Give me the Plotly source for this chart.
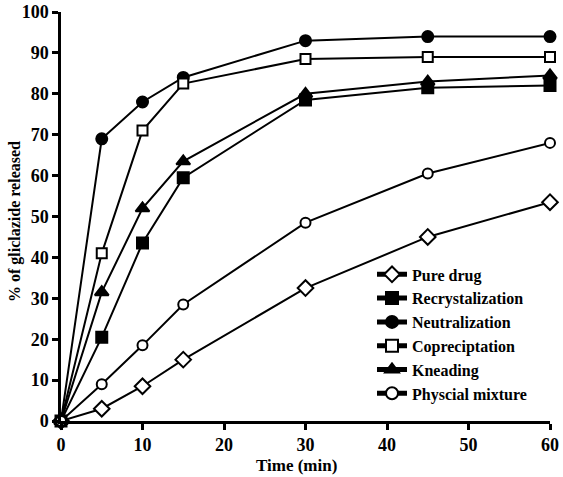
import plotly.graph_objects as go

time_min = [0, 5, 10, 15, 30, 45, 60]
pure_drug = [0, 3, 8.5, 15, 32.5, 45, 53.5]
recrystalization = [0, 20.5, 43.5, 59.5, 78.5, 81.5, 82]
neutralization = [0, 69, 78, 84, 93, 94, 94]
copreciptation = [0, 41, 71, 82.5, 88.5, 89, 89]
kneading = [0, 31.5, 52, 63.5, 80, 83, 84.5]
physical_mixture = [0, 9, 18.5, 28.5, 48.5, 60.5, 68]

series = [
    ("Pure drug", pure_drug, "diamond", "white", 12),
    ("Recrystalization", recrystalization, "square", "black", 11),
    ("Neutralization", neutralization, "circle", "black", 11),
    ("Copreciptation", copreciptation, "square", "white", 10),
    ("Kneading", kneading, "triangle-up", "black", 12),
    ("Physcial mixture", physical_mixture, "circle", "white", 10),
]

fig = go.Figure()
for i, (name, vals, sym, fill, sz) in enumerate(series):
    fig.add_trace(go.Scatter(
        x=time_min, y=vals, name=name, mode="lines+markers",
        legendgroup=f"g{i}",
        line=dict(color="black", width=2),
        marker=dict(symbol=sym, color=fill, size=sz,
                    line=dict(color="black", width=2)),
        cliponaxis=False,
    ))

font = dict(family="Liberation Serif", size=18, color="black", weight="bold")
legfont = dict(family="Liberation Serif", size=16, color="black", weight="bold")
titlefont = dict(family="Liberation Serif", size=17, color="black", weight="bold")

fig.update_layout(
    width=563, height=477,
    margin=dict(l=61, r=13, t=12, b=56, autoexpand=False),
    paper_bgcolor="white", plot_bgcolor="white",
    font=font,
    showlegend=True,
    legend=dict(x=0.636, y=0.40, xanchor="left", yanchor="top",
                bgcolor="rgba(0,0,0,0)", font=legfont,
                tracegroupgap=0, itemwidth=30, itemsizing="constant"),
    annotations=[
        dict(text="Time (min)", xref="paper", yref="paper",
             x=(296 - 61) / 489, y=-(466 - 421) / 409,
             xanchor="center", yanchor="middle", showarrow=False,
             font=titlefont),
        dict(text="% of gliclazide released", xref="paper", yref="paper",
             x=-(61 - 15) / 489, y=(421 - 222) / 409, textangle=-90,
             xanchor="center", yanchor="middle", showarrow=False,
             font=dict(family="Liberation Serif", size=16, color="black", weight="bold")),
    ],
)
fig.update_xaxes(
    range=[0, 60], tickvals=[0, 10, 20, 30, 40, 50, 60],
    showline=True, linecolor="black", linewidth=2.5,
    ticks="outside", ticklen=6, tickwidth=2.5, tickcolor="black",
    showgrid=False, zeroline=False, automargin=False,
    tickfont=font,
)
fig.update_yaxes(
    range=[0, 100], tickvals=list(range(0, 101, 10)),
    showline=True, linecolor="black", linewidth=2.5,
    ticks="outside", ticklen=6, tickwidth=2.5, tickcolor="black",
    showgrid=False, zeroline=False, automargin=False,
    tickfont=font,
)

fig.write_html("out.html")
